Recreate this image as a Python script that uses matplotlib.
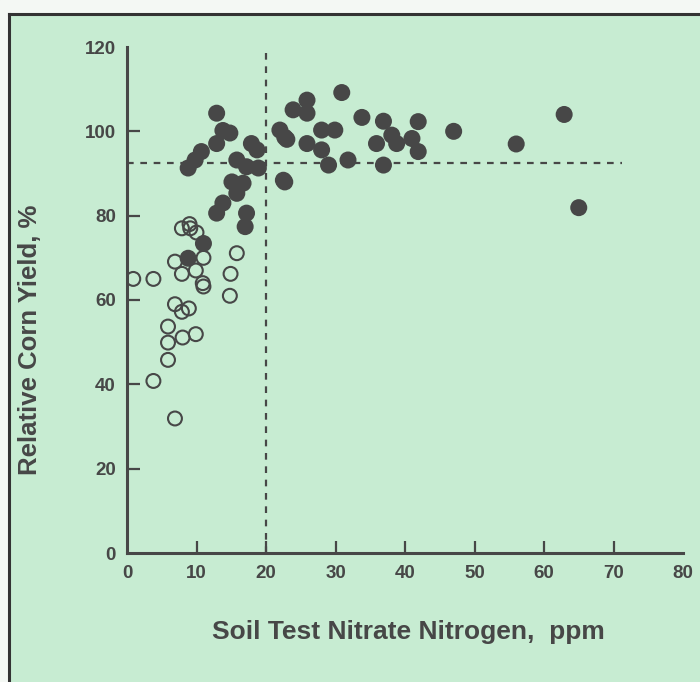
import matplotlib
matplotlib.use('Agg')
import matplotlib.pyplot as plt
from matplotlib.lines import Line2D

# Responsive (filled) points: soil nitrate ppm vs relative yield %
filled_x = [12.9, 13.8, 14.8, 12.9, 10.7, 9.8, 8.8, 17.9, 18.7, 15.8, 17.2, 18.9,
            15.1, 16.7, 15.8, 13.8, 12.9, 17.2, 17.0, 11.0, 8.8,
            22.0, 22.7, 23.0, 22.5, 23.9, 25.9, 25.9, 25.9, 28.0, 29.9, 28.0,
            29.0, 31.8, 30.9, 33.8, 36.9, 38.1, 35.9, 38.8, 41.0, 41.9, 41.9,
            36.9, 22.7, 47.0, 56.0, 62.9, 65.0]
filled_y = [104.3, 100.2, 99.6, 97.1, 95.2, 93.2, 91.3, 97.1, 95.6, 93.2, 91.6, 91.3,
            88.0, 87.7, 85.3, 83.0, 80.6, 80.6, 77.4, 73.4, 69.9,
            100.3, 98.6, 98.1, 88.4, 105.1, 107.4, 104.3, 97.1, 100.3, 100.3, 95.6,
            92.0, 93.2, 109.2, 103.3, 102.4, 99.1, 97.1, 97.1, 98.3, 102.3, 95.2,
            92.0, 88.0, 100.0, 97.0, 104.0, 81.9]

# Non-responsive (open) points
open_x = [0.9, 3.8, 3.8, 6.9, 5.9, 5.9, 5.9, 8.0, 9.9, 6.9, 7.9, 8.9, 6.9, 7.9,
          9.9, 10.9, 11.0, 11.0, 15.8, 14.9, 14.8, 7.9, 9.0, 9.1, 10.0]
open_y = [65.0, 65.0, 40.8, 31.9, 53.7, 49.9, 45.8, 51.1, 51.9, 59.0, 57.2, 58.0,
          69.1, 66.2, 67.0, 64.0, 63.2, 70.0, 71.1, 66.2, 61.0, 77.0, 78.0, 77.0, 76.0]

critical_n = 20
critical_yield = 92.5
line_end = 71.2

x_ticks = [0, 10, 20, 30, 40, 50, 60, 70, 80]
y_ticks = [0, 20, 40, 60, 80, 100, 120]

bg = '#c7ecd2'
ink = '#474747'

plt.rcParams['font.family'] = ['Liberation Sans', 'DejaVu Sans']

fig = plt.figure(figsize=(7, 6.82), dpi=100)
fig.patch.set_facecolor(bg)

# white margin strips and dark frame of the scanned page
fig.patches.append(plt.Rectangle((0, 1 - 13 / 682), 1, 13 / 682,
                                 transform=fig.transFigure, color='#f4f8f4', zorder=0))
fig.patches.append(plt.Rectangle((0, 0), 8 / 700, 1, transform=fig.transFigure,
                                 color='#f4f8f4', zorder=0))
fig.lines.append(Line2D([9 / 700, 9 / 700], [0, 1 - 14 / 682], transform=fig.transFigure,
                        color='#333333', lw=2.2))
fig.lines.append(Line2D([9 / 700, 1], [1 - 14 / 682, 1 - 14 / 682], transform=fig.transFigure,
                        color='#333333', lw=2.2))

ax = fig.add_axes([127 / 700, 129 / 682, 556 / 700, 506 / 682])
ax.set_facecolor('none')

ax.plot([critical_n, critical_n], [0, 120], ls=(0, (3, 3)), color=ink, lw=1.6, zorder=1)
ax.plot([0, line_end], [critical_yield, critical_yield], ls=(0, (3, 3)), color=ink, lw=1.6, zorder=1)

ax.scatter(open_x, open_y, s=100, facecolors='none', edgecolors=ink, linewidths=1.5, zorder=2)
ax.scatter(filled_x, filled_y, s=150, color=ink, edgecolors='none', zorder=3)

ax.set_xlim(0, 80)
ax.set_ylim(0, 120)
ax.set_xticks(x_ticks)
ax.set_yticks(y_ticks)
ax.spines['top'].set_visible(False)
ax.spines['right'].set_visible(False)
for s in ('left', 'bottom'):
    ax.spines[s].set_linewidth(2.2)
    ax.spines[s].set_color(ink)
ax.tick_params(direction='in', length=9, width=1.6, color=ink, labelcolor=ink,
               labelsize=13.5)
ax.tick_params(axis='x', pad=9)
ax.tick_params(axis='y', pad=8)
for lab in ax.get_xticklabels() + ax.get_yticklabels():
    lab.set_fontweight('bold')

# no tick marks at the axis ends
for t in (ax.xaxis.get_major_ticks()[0], ax.xaxis.get_major_ticks()[-1],
          ax.yaxis.get_major_ticks()[0], ax.yaxis.get_major_ticks()[-1]):
    t.tick1line.set_visible(False)

fig.text(408 / 700, 1 - 632 / 682, 'Soil Test Nitrate Nitrogen,  ppm', fontsize=19,
         fontweight='bold', color=ink, ha='center', va='center')
fig.text(30 / 700, 1 - 340 / 682, 'Relative Corn Yield, %', fontsize=18.5,
         fontweight='bold', color=ink, ha='center', va='center', rotation=90)

fig.savefig('out.png', dpi=100, facecolor=bg)
